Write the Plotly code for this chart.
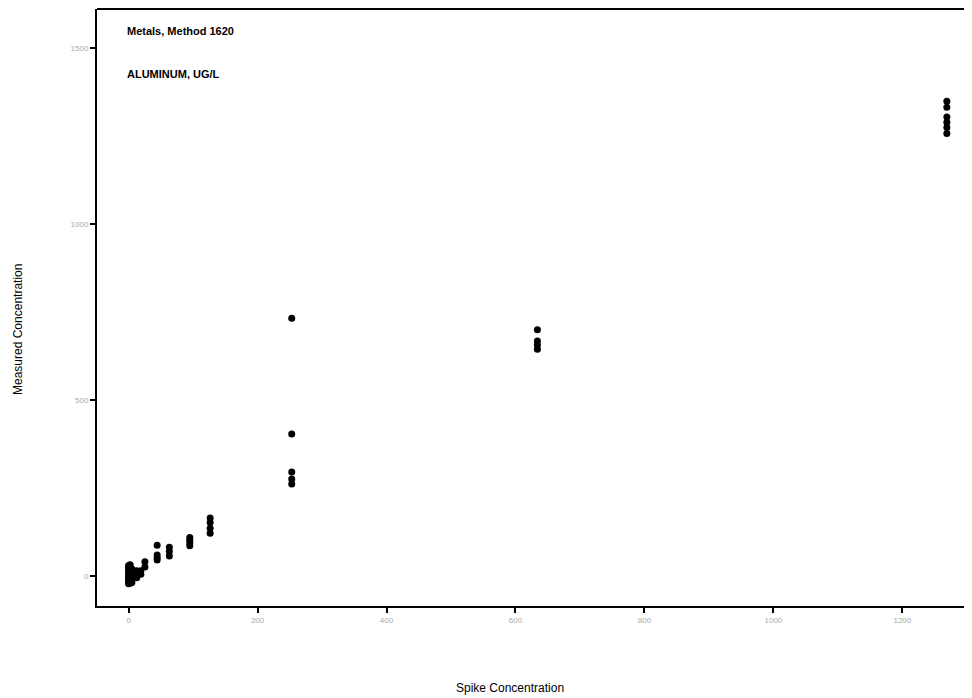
import plotly.graph_objects as go

spike_levels = [0, 2.5, 5.1, 12.6, 19, 25.3, 44.3, 63.2, 94.9, 126.5, 253, 634, 1269]
measured = [
    [-22, -18, -12, -8, -3, 2, 6, 12, 18, 25, 30],
    [-20, -15, -10, -5, 0, 5, 10, 20, 32],
    [-18, -10, -4, 3, 10, 20],
    [-5, 2, 8, 15],
    [5, 15],
    [26, 41],
    [88, 60, 52, 46],
    [82, 70, 57],
    [110, 102, 94, 86],
    [165, 152, 136, 122],
    [733, 404, 296, 276, 262],
    [700, 668, 657, 645],
    [1350, 1333, 1305, 1290, 1275, 1258],
]

x_ticks = [0, 200, 400, 600, 800, 1000, 1200]
y_ticks = [0, 500, 1000, 1500]

title_line1 = "Metals, Method 1620"
title_line2 = "ALUMINUM, UG/L"
x_title = "Spike Concentration"
y_title = "Measured Concentration"

xs, ys = [], []
for lvl, vals in zip(spike_levels, measured):
    for v in vals:
        xs.append(lvl)
        ys.append(v)

fig = go.Figure()
fig.add_trace(go.Scatter(
    x=xs, y=ys, mode="markers",
    marker=dict(symbol="circle", size=7, color="black"),
    showlegend=False, hoverinfo="x+y",
))

axis_common = dict(
    showgrid=False, zeroline=False,
    showline=True, linecolor="black", linewidth=2,
    ticks="outside", ticklen=5, tickwidth=1.5, tickcolor="black",
    tickfont=dict(family="Liberation Sans Narrow, Arial, sans-serif", size=8, color="#aaaaaa"),
)

# page body has ~8px margin, so figure is sized to end at the window edge
plot_h = 597
fig.update_layout(
    width=964, height=690,
    margin=dict(l=89, r=0, t=1, b=92),
    plot_bgcolor="white", paper_bgcolor="white",
    xaxis=dict(range=[-49, 1308], tickvals=x_ticks, **axis_common),
    yaxis=dict(range=[-85, 1612], tickvals=y_ticks, **axis_common),
    shapes=[dict(type="line", xref="paper", yref="paper", x0=0, x1=1, y0=1, y1=1,
                 line=dict(color="black", width=2))],
    annotations=[
        dict(text="<b>" + title_line1 + "</b>", xref="x", yref="y", x=-5, y=1550,
             xanchor="left", yanchor="middle", showarrow=False,
             font=dict(family="Liberation Sans Narrow, Arial, sans-serif", size=11, color="black")),
        dict(text="<b>" + title_line2 + "</b>", xref="x", yref="y", x=-5, y=1427,
             xanchor="left", yanchor="middle", showarrow=False,
             font=dict(family="Liberation Sans Narrow, Arial, sans-serif", size=11, color="black")),
        dict(text=x_title, xref="paper", yref="paper", x=(510 - 97) / 875, y=-(688 - 606) / plot_h,
             xanchor="center", yanchor="middle", showarrow=False,
             font=dict(family="Liberation Sans, Arial, sans-serif", size=12, color="black")),
        dict(text=y_title, xref="paper", yref="paper", x=-(97 - 18) / 875, y=(606 - 330) / plot_h,
             xanchor="center", yanchor="middle", showarrow=False, textangle=-90,
             font=dict(family="Liberation Sans, Arial, sans-serif", size=12, color="black")),
    ],
)

fig.write_html("out.html")
